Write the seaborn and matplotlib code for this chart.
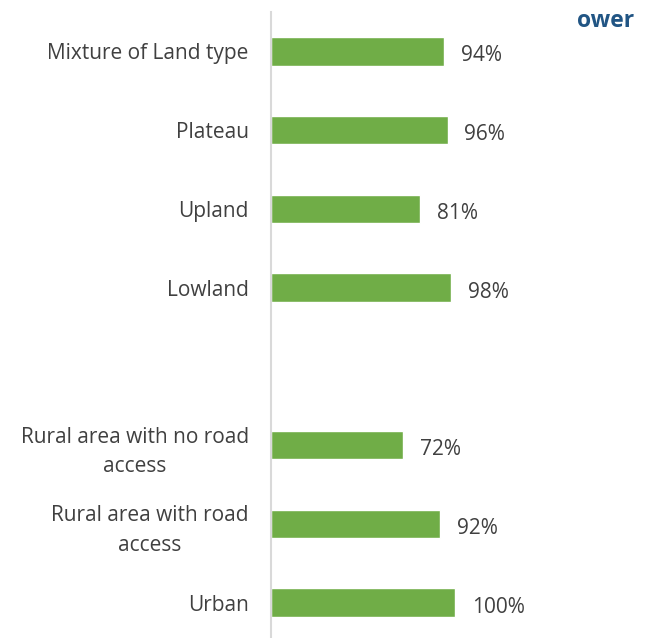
import matplotlib
matplotlib.use("Agg")
import matplotlib.pyplot as plt
import seaborn as sns
import pandas as pd

# Share of respondents by land type and settlement type
categories = [
    "Mixture of Land type",
    "Plateau",
    "Upland",
    "Lowland",
    "Rural area with no road\naccess",
    "Rural area with road\naccess",
    "Urban",
]
values = [94, 96, 81, 98, 72, 92, 100]

# Blank slot separating the two groups
order = categories[:4] + [""] + categories[4:]

df = pd.DataFrame({"category": categories, "value": values})

sns.set_theme(style="white")
plt.rcParams["font.family"] = ["Open Sans", "DejaVu Sans"]

W, H = 652, 638
fig = plt.figure(figsize=(W / 100, H / 100), dpi=100)
x0, x1 = 271, 652
y_top, y_bot = 12, 642
ax = fig.add_axes([x0 / W, 1 - y_bot / H, (x1 - x0) / W, (y_bot - y_top) / H])

green = "#70AD47"
text_col = "#404040"

sns.barplot(data=df, y="category", x="value", order=order, orient="h",
            color=green, saturation=1, width=0.365, ax=ax)

ax.set_xlim(0, (x1 - x0) / 184 * 100)
ax.set_xlabel("")
ax.set_ylabel("")
ax.set_xticks([])
for s in ["top", "right", "bottom"]:
    ax.spines[s].set_visible(False)
ax.spines["left"].set_color("#D9D9D9")
ax.spines["left"].set_linewidth(1.5)

ax.tick_params(axis="y", length=0, pad=16, labelsize=15, labelcolor=text_col)
for lbl in ax.get_yticklabels():
    lbl.set_multialignment("center")
    lbl.set_linespacing(1.55)

for cont in ax.containers:
    texts = ax.bar_label(cont, fmt="%d%%", padding=12, fontsize=15, color=text_col)
    for t in texts:
        t.xyann = (12, -3.2)

fig.text(634 / W, 1 - 21 / H, "ower", ha="right", va="center",
         fontsize=16.5, fontweight="bold", color="#215584")

fig.savefig("out.png", dpi=100)
